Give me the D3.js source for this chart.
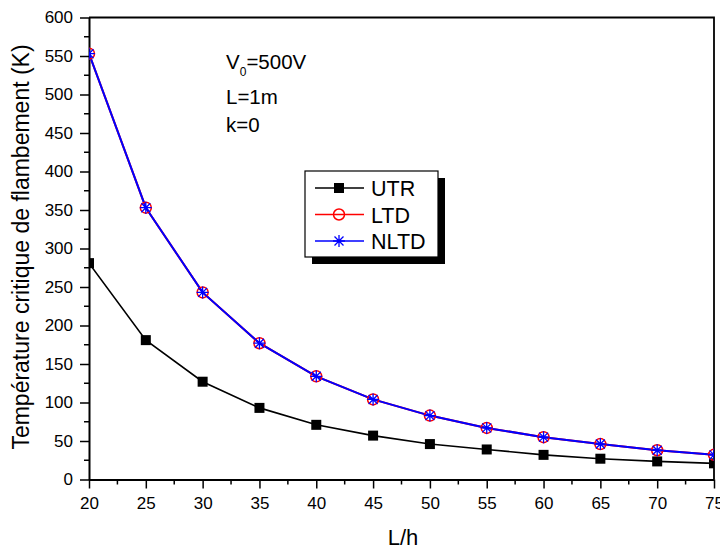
<!DOCTYPE html>
<html>
<head>
<meta charset="utf-8">
<script src="https://cdn.jsdelivr.net/npm/d3@7"></script>
<style>
  body { margin: 0; background: #fff; }
  svg { display: block; font-family: "Liberation Sans", Arial, sans-serif; }
</style>
</head>
<body>
<svg id="chart" width="720" height="549"></svg>
<script>
// data
var ratios = [20, 25, 30, 35, 40, 45, 50, 55, 60, 65, 70, 75];
var utr = [281, 181, 127, 93, 71, 57, 46, 39, 32, 27, 23.5, 21];
var ltd = [553, 353, 243, 177, 134, 104, 83, 67, 55, 46, 38, 32];
var nltd = [553, 353, 243, 177, 134, 104, 83, 67, 55, 46, 38, 32];
var xTicks = [20, 25, 30, 35, 40, 45, 50, 55, 60, 65, 70, 75];
var yTicks = [0, 50, 100, 150, 200, 250, 300, 350, 400, 450, 500, 550, 600];

var svg = d3.select('#chart');
var margin = { left: 89, right: 6, top: 17.5, bottom: 69.5 };
var width = 720 - margin.left - margin.right,
    height = 549 - margin.top - margin.bottom;

var x = d3.scaleLinear().domain([20, 75]).range([0, width]);
var y = d3.scaleLinear().domain([0, 600]).range([height, 0]);

var main = svg.append('g')
    .attr('transform', 'translate(' + margin.left + ',' + margin.top + ')');

main.append('clipPath').attr('id', 'clip')
    .append('rect').attr('width', width).attr('height', height);

// frame (top + right)
main.append('path')
    .attr('d', 'M0,0H' + width + 'V' + height)
    .attr('fill', 'none')
    .attr('stroke', '#000')
    .attr('stroke-width', 1.8);

// minor ticks
var xMinor = d3.range(22.5, 75, 5), yMinor = d3.range(25, 600, 50);
main.append('g').selectAll('line').data(xMinor).enter().append('line')
    .attr('x1', x).attr('x2', x)
    .attr('y1', height).attr('y2', height + 5)
    .attr('stroke', '#000').attr('stroke-width', 1.5);
main.append('g').selectAll('line').data(yMinor).enter().append('line')
    .attr('y1', y).attr('y2', y)
    .attr('x1', 0).attr('x2', -5)
    .attr('stroke', '#000').attr('stroke-width', 1.5);

var xAxis = main.append('g')
    .attr('transform', 'translate(0,' + height + ')')
    .call(d3.axisBottom(x).tickValues(xTicks).tickSize(9).tickPadding(8).tickSizeOuter(0));
var yAxis = main.append('g')
    .call(d3.axisLeft(y).tickValues(yTicks).tickSize(9).tickPadding(7).tickSizeOuter(0));

[xAxis, yAxis].forEach(function (ax) {
    ax.select('.domain').attr('stroke-width', 2);
    ax.selectAll('.tick line').attr('stroke-width', 1.5);
    ax.selectAll('.tick text')
        .attr('font-size', 17)
        .attr('font-family', '"Liberation Sans", Arial, sans-serif')
        .attr('fill', '#000');
});

// axis titles
svg.append('text')
    .attr('x', 403)
    .attr('y', 545)
    .attr('text-anchor', 'middle')
    .attr('font-size', 22)
    .text('L/h');
svg.append('text')
    .attr('transform', 'translate(29,247) rotate(-90)')
    .attr('text-anchor', 'middle')
    .attr('font-size', 23)
    .text('Température critique de flambement (K)');

// series
var plot = main.append('g').attr('clip-path', 'url(#clip)');
var line = d3.line()
    .x(function (d) { return x(d[0]); })
    .y(function (d) { return y(d[1]); });

function pairs(vals) {
    return ratios.map(function (r, i) { return [r, vals[i]]; });
}

var series = [
    { name: 'UTR', vals: utr, color: '#000', width: 1.6, marker: 'square' },
    { name: 'LTD', vals: ltd, color: '#ff0000', width: 2, marker: 'circle' },
    { name: 'NLTD', vals: nltd, color: '#0000ff', width: 2, marker: 'star' }
];

function drawMarker(g, type, color) {
    if (type === 'square') {
        g.append('rect')
            .attr('x', -5).attr('y', -5).attr('width', 10).attr('height', 10)
            .attr('fill', color);
    } else if (type === 'circle') {
        g.append('circle')
            .attr('r', 5.5)
            .attr('fill', 'none')
            .attr('stroke', color)
            .attr('stroke-width', 1.5);
    } else {
        g.append('path')
            .attr('d', 'M-6,0H6M0,-6V6M-4.5,-4.5L4.5,4.5M-4.5,4.5L4.5,-4.5')
            .attr('stroke', color)
            .attr('stroke-width', 1.3);
    }
}

series.forEach(function (s) {
    plot.append('path')
        .datum(pairs(s.vals))
        .attr('d', line)
        .attr('fill', 'none')
        .attr('stroke', s.color)
        .attr('stroke-width', s.width);
});
series.forEach(function (s) {
    plot.append('g').selectAll('g').data(pairs(s.vals)).enter().append('g')
        .attr('transform', function (d) { return 'translate(' + x(d[0]) + ',' + y(d[1]) + ')'; })
        .each(function () { drawMarker(d3.select(this), s.marker, s.color); });
});

// annotation
var note = svg.append('g').attr('font-size', 20.5);
var v0 = note.append('text').attr('x', 226).attr('y', 69);
v0.append('tspan').text('V');
v0.append('tspan').attr('font-size', 12).attr('dy', 7).text('0');
v0.append('tspan').attr('dy', -7).text('=500V');
note.append('text').attr('x', 226).attr('y', 104).text('L=1m');
note.append('text').attr('x', 226).attr('y', 132).text('k=0');

// legend
var legend = svg.append('g').attr('transform', 'translate(305,171)');
legend.append('rect')
    .attr('x', 7).attr('y', 7).attr('width', 133).attr('height', 86)
    .attr('fill', '#000');
legend.append('rect')
    .attr('width', 133).attr('height', 86)
    .attr('fill', '#fff')
    .attr('stroke', '#000')
    .attr('stroke-width', 1.2);
series.forEach(function (s, i) {
    var row = legend.append('g').attr('transform', 'translate(0,' + (17 + i * 26.5) + ')');
    row.append('line')
        .attr('x1', 10).attr('x2', 59)
        .attr('stroke', s.color).attr('stroke-width', 1.6);
    drawMarker(row.append('g').attr('transform', 'translate(34,0)'), s.marker, s.color);
    row.append('text')
        .attr('x', 66).attr('y', 8)
        .attr('font-size', 21.5)
        .text(s.name);
});
</script>
</body>
</html>
